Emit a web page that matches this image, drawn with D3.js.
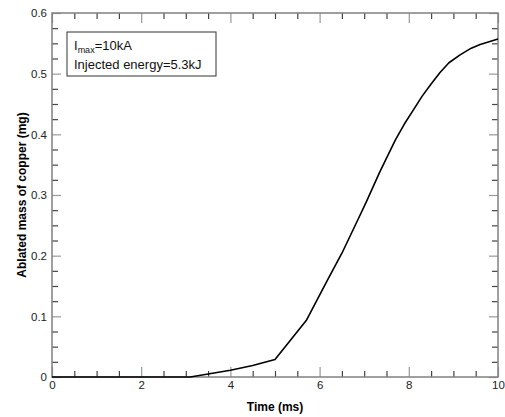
<!DOCTYPE html>
<html>
<head>
<meta charset="utf-8">
<script src="https://cdn.jsdelivr.net/npm/d3@7"></script>
<style>
  body { margin: 0; background: #fff; }
  svg text { font-family: Arial, "Liberation Sans", sans-serif; }
</style>
</head>
<body>
<svg id="chart" width="505" height="417"></svg>
<script>
// values
const timeMs = [0, 3.1, 3.5, 4, 4.5, 5, 5.7, 5.9, 6.2, 6.5, 6.85, 7.05, 7.35, 7.7, 7.9, 8.1, 8.3, 8.5, 8.7, 8.9, 9.15, 9.4, 9.6, 10];
const massMg = [0, 0, 0.005, 0.011, 0.019, 0.029, 0.093, 0.121, 0.163, 0.204, 0.258, 0.289, 0.338, 0.391, 0.417, 0.44, 0.463, 0.483, 0.502, 0.518, 0.531, 0.542, 0.548, 0.557];
const xMajor = [0, 2, 4, 6, 8, 10];
const yMajor = [0, 0.1, 0.2, 0.3, 0.4, 0.5, 0.6];
const xTitle = "Time (ms)";
const yTitle = "Ablated mass of copper (mg)";

const svg = d3.select("#chart");
const m = { left: 52, top: 13, right: 7, bottom: 40 };
const w = 505 - m.left - m.right;
const h = 417 - m.top - m.bottom;

const x = d3.scaleLinear().domain([0, 10]).range([0, w]);
const y = d3.scaleLinear().domain([0, 0.6]).range([h, 0]);

const g = svg.append("g").attr("transform", `translate(${m.left},${m.top})`);

// minor tick positions
const xMinor = d3.range(0, 10.01, 0.5).filter(v => Math.abs(v / 2 - Math.round(v / 2)) > 1e-6);
const yMinor = d3.range(0, 0.601, 0.025).filter(v => Math.abs(v * 10 - Math.round(v * 10)) > 1e-6);

function styleAxis(sel, color) {
  sel.select(".domain").remove();
  sel.selectAll(".tick line").attr("stroke", color).attr("stroke-width", 1.2);
  sel.selectAll(".tick text").attr("fill", "#222").style("font-size", "11.5px");
}

// bottom
g.append("g").attr("transform", `translate(0,${h})`)
  .call(d3.axisBottom(x).tickValues(xMajor).tickSize(-10).tickPadding(4).tickFormat(d3.format("d")))
  .call(s => styleAxis(s, "#999"));
g.append("g").attr("transform", `translate(0,${h})`)
  .call(d3.axisBottom(x).tickValues(xMinor).tickSize(-6).tickFormat(""))
  .call(s => styleAxis(s, "#444"));
// top
g.append("g")
  .call(d3.axisTop(x).tickValues(xMajor).tickSize(-10).tickFormat(""))
  .call(s => styleAxis(s, "#999"));
g.append("g")
  .call(d3.axisTop(x).tickValues(xMinor).tickSize(-6).tickFormat(""))
  .call(s => styleAxis(s, "#444"));
// left
g.append("g")
  .call(d3.axisLeft(y).tickValues(yMajor).tickSize(-9).tickPadding(5).tickFormat(d => d === 0 ? "0" : d3.format(".1f")(d)))
  .call(s => styleAxis(s, "#999"));
g.append("g")
  .call(d3.axisLeft(y).tickValues(yMinor).tickSize(-6).tickFormat(""))
  .call(s => styleAxis(s, "#444"));
// right
g.append("g").attr("transform", `translate(${w},0)`)
  .call(d3.axisRight(y).tickValues(yMajor).tickSize(-9).tickFormat(""))
  .call(s => styleAxis(s, "#999"));
g.append("g").attr("transform", `translate(${w},0)`)
  .call(d3.axisRight(y).tickValues(yMinor).tickSize(-6).tickFormat(""))
  .call(s => styleAxis(s, "#444"));

// frame
g.append("rect").attr("width", w).attr("height", h)
  .attr("fill", "none").attr("stroke", "#808080").attr("stroke-width", 1.5);

// curve
g.append("path")
  .datum(timeMs.map((t, i) => [t, massMg[i]]))
  .attr("fill", "none")
  .attr("stroke", "#000")
  .attr("stroke-width", 1.6)
  .attr("stroke-linejoin", "round")
  .attr("d", d3.line().x(d => x(d[0])).y(d => y(d[1])));

// legend box
const lg = svg.append("g").attr("transform", "translate(67,32)");
lg.append("rect").attr("width", 149).attr("height", 44)
  .attr("fill", "#fff").attr("stroke", "#333").attr("stroke-width", 1);
const t1 = lg.append("text").attr("x", 7).attr("y", 18).style("font-size", "13px").attr("fill", "#111");
t1.append("tspan").text("I");
t1.append("tspan").attr("dy", 3).style("font-size", "9px").text("max");
t1.append("tspan").attr("dy", -3).text("=10kA");
lg.append("text").attr("x", 7).attr("y", 37).style("font-size", "13px").attr("fill", "#111")
  .text("Injected energy=5.3kJ");

// axis titles
svg.append("text").attr("x", m.left + w / 2).attr("y", 411)
  .attr("text-anchor", "middle").style("font-size", "12px").style("font-weight", "bold")
  .text(xTitle);
svg.append("text").attr("transform", `translate(26,${m.top + h / 2}) rotate(-90)`)
  .attr("text-anchor", "middle").style("font-size", "12px").style("font-weight", "bold")
  .text(yTitle);
</script>
</body>
</html>
